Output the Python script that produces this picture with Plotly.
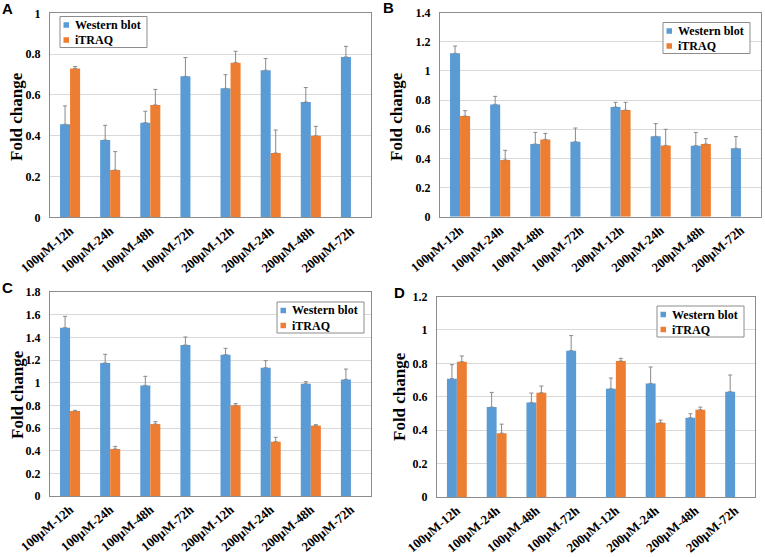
import plotly.graph_objects as go

W, H = 765, 557

categories = ["100μM-12h", "100μM-24h", "100μM-48h", "100μM-72h",
              "200μM-12h", "200μM-24h", "200μM-48h", "200μM-72h"]

# Panel A
wb_A = [0.456, 0.379, 0.464, 0.691, 0.632, 0.721, 0.565, 0.786]
wb_A_err = [0.090, 0.072, 0.056, 0.092, 0.067, 0.057, 0.071, 0.052]
it_A = [0.730, 0.232, 0.551, None, 0.758, 0.315, 0.400, None]
it_A_err = [0.009, 0.090, 0.076, 0, 0.056, 0.113, 0.046, 0]

# Panel B
wb_B = [1.120, 0.770, 0.498, 0.514, 0.752, 0.551, 0.487, 0.469]
wb_B_err = [0.050, 0.055, 0.080, 0.094, 0.032, 0.087, 0.091, 0.080]
it_B = [0.690, 0.389, 0.530, None, 0.731, 0.489, 0.498, None]
it_B_err = [0.037, 0.066, 0.041, 0, 0.053, 0.110, 0.037, 0]

# Panel C
wb_C = [1.485, 1.174, 0.976, 1.332, 1.247, 1.132, 0.991, 1.029]
wb_C_err = [0.100, 0.076, 0.080, 0.071, 0.056, 0.062, 0.018, 0.091]
it_C = [0.750, 0.415, 0.635, None, 0.800, 0.479, 0.621, None]
it_C_err = [0.006, 0.023, 0.021, 0, 0.015, 0.039, 0.008, 0]

# Panel D
wb_D = [0.708, 0.538, 0.566, 0.876, 0.648, 0.680, 0.474, 0.630]
wb_D_err = [0.084, 0.088, 0.056, 0.090, 0.064, 0.098, 0.024, 0.100]
it_D = [0.810, 0.382, 0.624, None, 0.814, 0.444, 0.522, None]
it_D_err = [0.034, 0.054, 0.040, 0, 0.016, 0.016, 0.016, 0]

y_max = [1.0, 1.4, 1.8, 1.2]
panel_letters = ["A", "B", "C", "D"]
series_names = ["Western blot", "iTRAQ"]

BLUE = "#5B9BD5"
ORANGE = "#ED7D31"
SERIF = "Liberation Serif"
series_colors = [BLUE, ORANGE]

# plot areas in pixels: (left, right, top, bottom)
areas = [(50, 371, 13.3, 217.3), (440, 761, 12.5, 216.7),
         (50, 371, 292, 496), (437, 755, 296.5, 497)]
legend_pos = [(60, 16.5), (663, 22.5), (277, 302), (657, 306)]
letter_pos = [(8, 9), (388, 8), (8, 287), (399, 292)]
title_pos = [(17, 117), (397, 117), (17, 395), (399, 397)]

panels = [(wb_A, wb_A_err, it_A, it_A_err), (wb_B, wb_B_err, it_B, it_B_err),
          (wb_C, wb_C_err, it_C, it_C_err), (wb_D, wb_D_err, it_D, it_D_err)]


def px(x):
    return x / W


def py(y):
    return 1 - y / H


fig = go.Figure()
layout = dict(width=W, height=H, margin=dict(l=0, r=0, t=0, b=0, autoexpand=False),
              paper_bgcolor="white", plot_bgcolor="white",
              barmode="group", bargap=0.5, bargroupgap=0, showlegend=False)
annotations = []
shapes = []

for i, (wb, wbe, it, ite) in enumerate(panels):
    k = "" if i == 0 else str(i + 1)
    xa, ya = "x" + k, "y" + k
    for vals, errs, name, col in [(wb, wbe, series_names[0], BLUE),
                                  (it, ite, series_names[1], ORANGE)]:
        fig.add_trace(go.Bar(
            x=categories, y=vals, name=name, marker=dict(color=col, line=dict(width=0)),
            error_y=dict(type="data", symmetric=False, array=errs,
                         arrayminus=[0] * len(errs), color="#8a8a8a",
                         thickness=1, width=2),
            xaxis=xa, yaxis=ya, hoverinfo="x+y+name"))
    l, r, t, b = areas[i]
    layout["xaxis" + k] = dict(
        domain=[px(l), px(r)], anchor=ya, type="category", automargin=False,
        showline=True, linecolor="#8c8c8c", linewidth=1, mirror=True,
        showgrid=False, ticks="", tickangle=-40,
        tickfont=dict(family=SERIF, size=13, color="black", weight="bold"))
    layout["yaxis" + k] = dict(
        domain=[py(b), py(t)], anchor=xa, range=[0, y_max[i]],
        automargin=False,
        dtick=0.2, tick0=0, showline=True, linecolor="#8c8c8c", linewidth=1,
        mirror=True, showgrid=True, gridcolor="#d9d9d9", gridwidth=1,
        zeroline=False, ticks="", ticklabelstandoff=6,
        tickfont=dict(family=SERIF, size=12, color="black", weight="bold"))

    # legend box (drawn as a framed key)
    lx, ly = legend_pos[i]
    bw, bh = 87, 31
    shapes.append(dict(type="rect", xref="paper", yref="paper",
                       x0=px(lx), x1=px(lx + bw), y0=py(ly + bh), y1=py(ly),
                       line=dict(color="#8c8c8c", width=1), fillcolor="white",
                       layer="above"))
    for j, (name, col) in enumerate(zip(series_names, series_colors)):
        cy = ly + 8.5 + 15 * j
        shapes.append(dict(type="rect", xref="paper", yref="paper",
                           x0=px(lx + 3.5), x1=px(lx + 9), y0=py(cy + 2.75), y1=py(cy - 2.75),
                           line=dict(width=0), fillcolor=col, layer="above"))
        annotations.append(dict(
            text=name, x=px(lx + 13), y=py(cy), xref="paper", yref="paper",
            showarrow=False, xanchor="left", yanchor="middle",
            font=dict(family=SERIF, size=12, color="black", weight="bold")))

    lpx, lpy = letter_pos[i]
    annotations.append(dict(
        text=panel_letters[i], x=px(lpx), y=py(lpy), xref="paper", yref="paper",
        showarrow=False, xanchor="center", yanchor="middle",
        font=dict(family="Liberation Sans", size=15, color="black", weight="bold")))
    tx, ty = title_pos[i]
    annotations.append(dict(
        text="Fold change", x=px(tx), y=py(ty), xref="paper", yref="paper",
        showarrow=False, xanchor="center", yanchor="middle", textangle=-90,
        font=dict(family=SERIF, size=17, color="black", weight="bold")))

layout["annotations"] = annotations
layout["shapes"] = shapes
fig.update_layout(**layout)
fig.write_html("out.html", config={"displayModeBar": False},
               post_script="document.body.style.margin='0';document.body.style.overflow='hidden';")
